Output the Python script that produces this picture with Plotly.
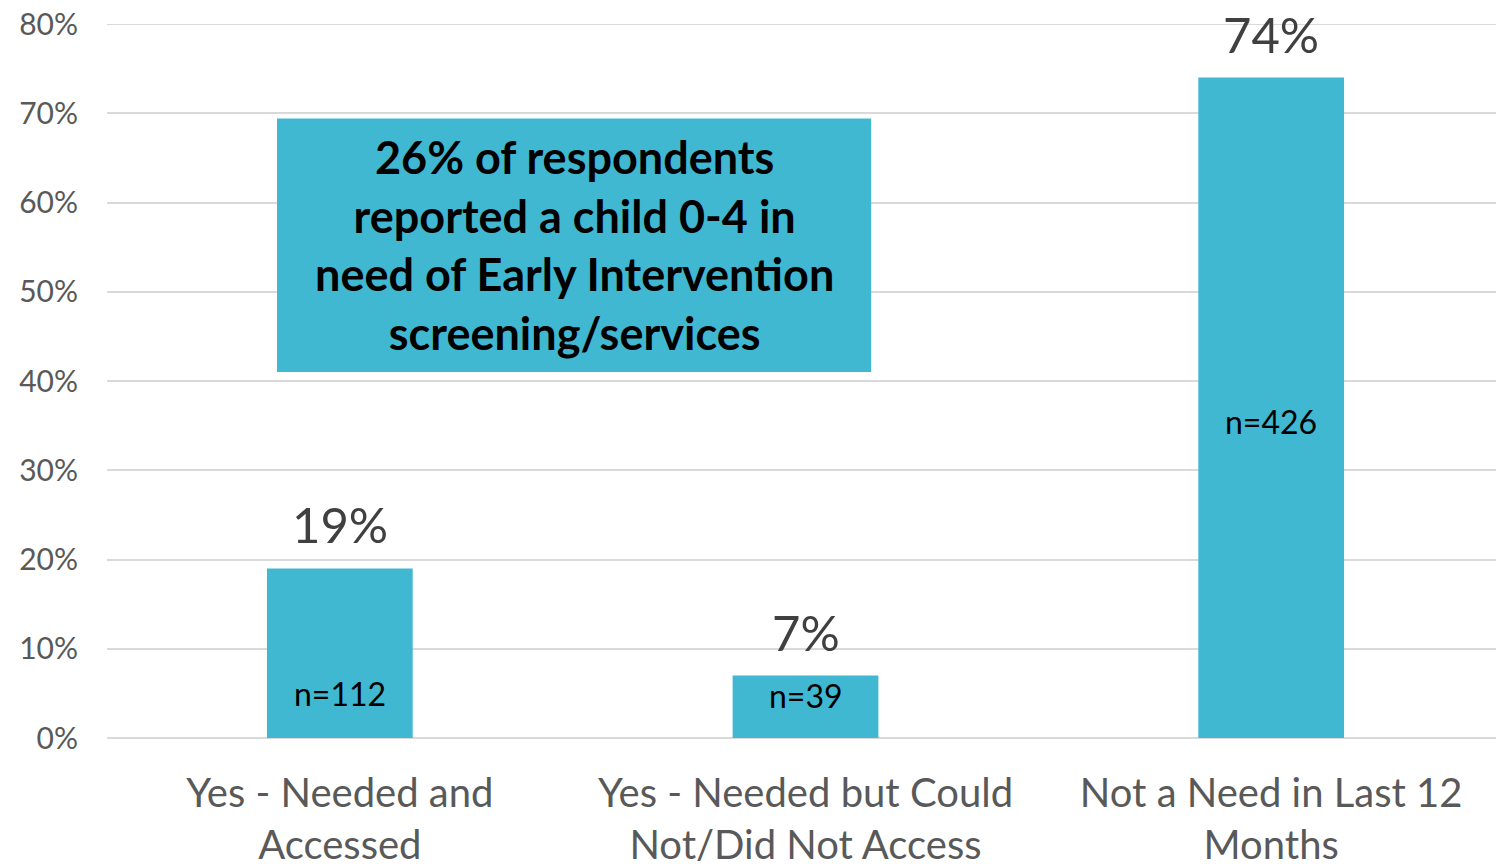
import plotly.graph_objects as go

categories = ["Yes - Needed and<br>Accessed",
              "Yes - Needed but Could<br>Not/Did Not Access",
              "Not a Need in Last 12<br>Months"]
values = [19, 7, 74]
value_labels = ["19%", "7%", "74%"]
n_labels = ["n=112", "n=39", "n=426"]
n_label_y = [5.0, 4.8, 35.5]
tick_vals = [0, 10, 20, 30, 40, 50, 60, 70, 80]
tick_text = ["0%", "10%", "20%", "30%", "40%", "50%", "60%", "70%", "80%"]
callout = "26% of respondents<br>reported a child 0-4 in<br>need of Early Intervention<br>screening/services"

BAR = "#40B8D2"
GRID = "#D9D9D9"
FONT = "Lato"

fig = go.Figure(go.Bar(
    x=categories, y=values, marker_color=BAR, marker_line_width=0,
    width=0.313, hoverinfo="skip"))

annotations = []
for c, v, t in zip(categories, values, value_labels):
    annotations.append(dict(x=c, y=v, xref="x", yref="y", text=t, showarrow=False,
                            yanchor="bottom", yshift=13,
                            font=dict(family=FONT, size=49, color="#404040")))
for c, ny, t in zip(categories, n_label_y, n_labels):
    annotations.append(dict(x=c, y=ny, xref="x", yref="y", text=t, showarrow=False,
                            yanchor="middle",
                            font=dict(family=FONT, size=32, color="#000000")))
annotations.append(dict(x=0.3347, y=55.2, xref="paper", yref="y", text=callout,
                        showarrow=False, align="center", yanchor="middle",
                        font=dict(family=FONT, size=45, color="#000000", weight="bold")))

fig.update_layout(
    width=1496, height=856,
    margin=dict(l=99, r=0, t=16, b=126),
    paper_bgcolor="white", plot_bgcolor="white",
    showlegend=False,
    bargap=0.687,
    annotations=annotations,
    shapes=[
        dict(type="line", xref="paper", yref="y", x0=0, x1=1,
             y0=tick_vals[-1], y1=tick_vals[-1], line=dict(color=GRID, width=2),
             layer="below"),
        dict(type="rect", xref="paper", yref="y", x0=0.1217, x1=0.547,
             y0=41.0, y1=69.4, fillcolor=BAR, line_width=0, layer="above"),
    ],
    xaxis=dict(showline=False, showgrid=False, ticks="", automargin=False,
               ticklabelstandoff=28, ticklabeloverflow="allow",
               tickfont=dict(family=FONT, size=40, color="#595959")),
    yaxis=dict(range=[0, 80], tickvals=tick_vals, ticktext=tick_text,
               showgrid=True, gridcolor=GRID, gridwidth=2,
               zeroline=True, zerolinecolor=GRID, zerolinewidth=2,
               showline=False, ticks="", ticklabelstandoff=28, automargin=False,
               ticklabeloverflow="allow",
               tickfont=dict(family=FONT, size=30, color="#595959")),
)
fig.write_html("out.html")
